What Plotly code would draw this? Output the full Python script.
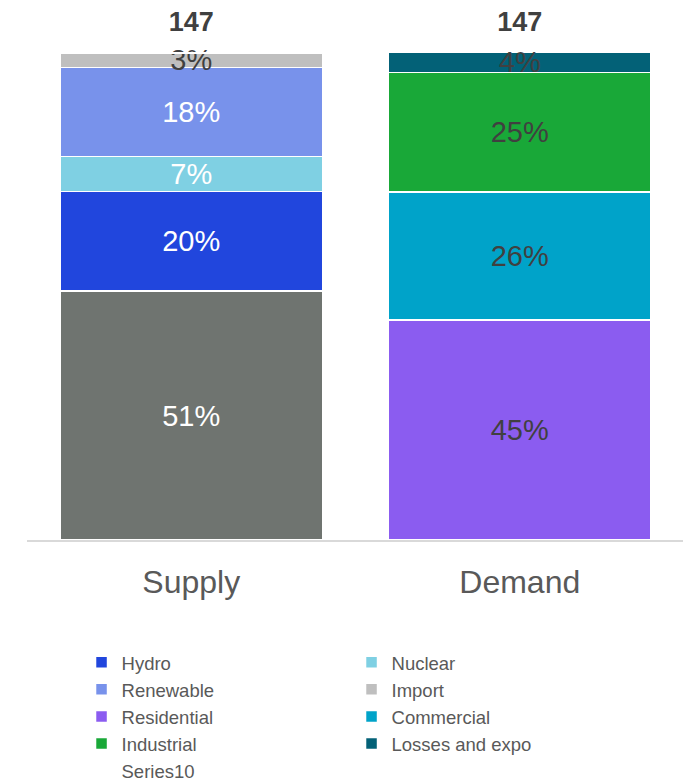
import plotly.graph_objects as go

categories = ["Supply", "Demand"]
totals = [147, 147]

# stacked series (absolute values)
series_names = ["Other", "Hydro", "Nuclear", "Renewable", "Import",
                "Residential", "Commercial", "Industrial", "Losses and expo"]
series_values = {
    "Other":           [75.0, 0],
    "Hydro":           [30.0, 0],
    "Nuclear":         [10.5, 0],
    "Renewable":       [26.8, 0],
    "Import":          [4.5, 0],
    "Residential":     [0, 66.3],
    "Commercial":      [0, 38.5],
    "Industrial":      [0, 36.1],
    "Losses and expo": [0, 6.0],
}
series_pct = {
    "Other":           ["51%", ""],
    "Hydro":           ["20%", ""],
    "Nuclear":         ["7%", ""],
    "Renewable":       ["18%", ""],
    "Import":          ["3%", ""],
    "Residential":     ["", "45%"],
    "Commercial":      ["", "26%"],
    "Industrial":      ["", "25%"],
    "Losses and expo": ["", "4%"],
}
colors = {
    "Other": "#6f7470",
    "Hydro": "#2146dd",
    "Nuclear": "#7fd0e3",
    "Renewable": "#7892eb",
    "Import": "#bfbfbf",
    "Residential": "#8b5cf0",
    "Commercial": "#00a3c9",
    "Industrial": "#19a838",
    "Losses and expo": "#036177",
}
text_colors = {
    "Other": "white", "Hydro": "white", "Nuclear": "white", "Renewable": "white",
    "Import": "#404040", "Residential": "#404040", "Commercial": "#404040",
    "Industrial": "#404040", "Losses and expo": "#404040",
}
legend_rank = {
    "Hydro": 1, "Nuclear": 2, "Renewable": 3, "Import": 4,
    "Residential": 5, "Commercial": 6, "Industrial": 7, "Losses and expo": 8,
}

FONT = "Liberation Sans, Arial, Helvetica, sans-serif"

fig = go.Figure()
for name in series_names:
    fig.add_trace(go.Bar(
        x=categories,
        y=series_values[name],
        name=name,
        marker=dict(color=colors[name], line=dict(color="white", width=1.5)),
        text=series_pct[name],
        textposition="inside",
        insidetextanchor="middle",
        textfont=dict(size=29, color=text_colors[name], family=FONT),
        showlegend=name != "Other",
        legendrank=legend_rank.get(name, 100),
        hoverinfo="skip",
    ))

fig.add_trace(go.Scatter(
    x=categories,
    y=totals,
    mode="markers+text",
    name="Series10",
    text=[str(t) for t in totals],
    textposition="top center",
    textfont=dict(size=27, color="#404040", family=FONT, weight="bold"),
    marker=dict(size=22, color="rgba(0,0,0,0)"),
    legendrank=9,
    hoverinfo="skip",
    cliponaxis=False,
))

fig.update_layout(
    width=691, height=783,
    barmode="stack",
    bargap=0.2,
    plot_bgcolor="white",
    paper_bgcolor="white",
    margin=dict(l=19, r=15, t=1, b=251, autoexpand=False),
    font=dict(family=FONT, color="#595959"),
    uniformtext=dict(mode="show", minsize=29),
    xaxis=dict(
        showline=True, linecolor="#d9d9d9", linewidth=2,
        ticks="", showgrid=False,
        tickfont=dict(size=32, color="#595959", family=FONT),
        ticklabelstandoff=13,
    ),
    yaxis=dict(range=[0, 160], visible=False, showgrid=False),
    legend=dict(
        orientation="h",
        x=0.083, xanchor="left", xref="paper",
        y=0.188, yanchor="top", yref="container",
        entrywidth=225,
        itemwidth=30,
        font=dict(size=18.5, color="#595959", family=FONT),
        traceorder="normal",
        tracegroupgap=0,
        itemclick=False,
    ),
    showlegend=True,
)

fig.write_html("out.html")
